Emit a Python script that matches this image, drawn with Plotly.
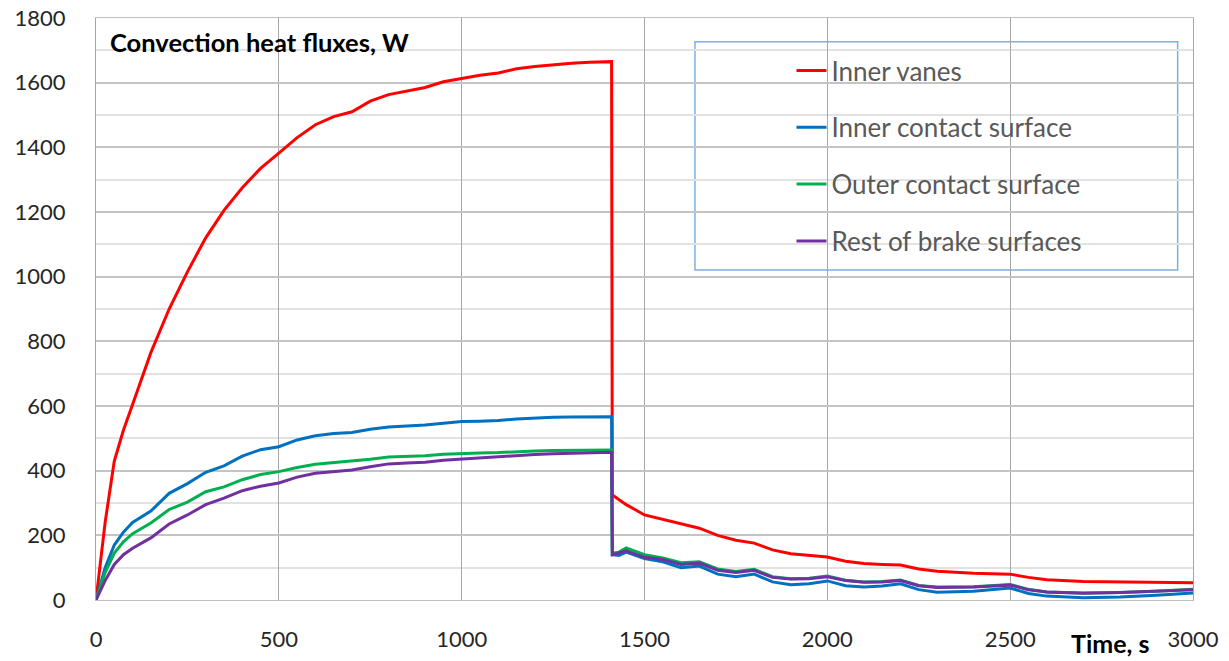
import plotly.graph_objects as go

# Heating phase (before the drop at ~1410 s)
t_heat = [0, 25, 50, 75, 100, 150, 200, 250, 300, 350, 400, 450, 500, 550, 600, 650, 700,
          750, 800, 850, 900, 950, 1000, 1050, 1100, 1150, 1200, 1250, 1300, 1350, 1410]
vanes_heat = [0, 240, 430, 525, 605, 765, 900, 1015, 1120, 1205, 1275, 1335, 1382, 1430, 1470, 1495,
              1510, 1543, 1563, 1575, 1585, 1603, 1614, 1623, 1630, 1643, 1650, 1656, 1660, 1663, 1665]
inner_heat = [0, 100, 170, 210, 240, 275, 330, 360, 395, 415, 445, 465, 474, 495, 508, 515,
              518, 528, 535, 538, 541, 547, 552, 553, 555, 560, 563, 565, 566, 567, 567]
outer_heat = [0, 85, 145, 180, 205, 238, 280, 303, 335, 350, 372, 388, 397, 410, 420, 425,
              428, 435, 442, 444, 446, 451, 454, 455, 456, 459, 461, 462, 463, 464, 464]
rest_heat = [0, 60, 110, 140, 160, 192, 235, 263, 295, 315, 338, 352, 362, 380, 392, 398,
             402, 412, 421, 424, 426, 432, 436, 439, 442, 446, 450, 452, 454, 456, 457]

# Cooling phase
t_cool = [1412, 1430, 1450, 1500, 1550, 1600, 1650, 1700, 1750, 1800, 1850, 1900, 1950, 2000,
          2050, 2100, 2150, 2200, 2250, 2300, 2400, 2500, 2550, 2600, 2700, 2800, 2900, 3000]
vanes_cool = [325, 310, 295, 263, 250, 235, 222, 200, 185, 176, 155, 143, 137, 133,
              120, 113, 110, 108, 96, 89, 83, 80, 70, 63, 57, 55, 54, 53]
inner_cool = [140, 138, 148, 128, 118, 100, 105, 80, 72, 80, 56, 47, 50, 59,
              44, 40, 43, 50, 32, 24, 27, 37, 20, 12, 7, 9, 15, 22]
outer_cool = [145, 148, 161, 140, 130, 115, 118, 96, 88, 95, 72, 66, 67, 74,
              61, 56, 57, 62, 45, 40, 41, 48, 33, 25, 22, 23, 27, 33]
rest_cool = [140, 145, 152, 132, 125, 110, 114, 92, 85, 92, 70, 65, 66, 72,
             60, 55, 56, 60, 44, 39, 40, 46, 32, 25, 21, 23, 27, 32]

names = ["Inner vanes", "Inner contact surface", "Outer contact surface", "Rest of brake surfaces"]
colors = ["#ff0000", "#0070c0", "#00b050", "#7030a0"]
series = [(vanes_heat, vanes_cool), (inner_heat, inner_cool),
          (outer_heat, outer_cool), (rest_heat, rest_cool)]

fig = go.Figure()
t_all = t_heat + t_cool
for name, color, (h, c) in zip(names, colors, series):
    fig.add_trace(go.Scatter(x=t_all, y=h + c, mode="lines", name=name,
                             legendgroup=name,
                             line=dict(color=color, width=3)))

font_family = "Lato, 'Open Sans', sans-serif"

fig.update_layout(
    width=1229, height=661,
    margin=dict(l=96, r=36, t=18, b=61, autoexpand=False),
    paper_bgcolor="white", plot_bgcolor="white",
    font=dict(family=font_family, size=22, color="#262626"),
    legend=dict(x=0.634, y=0.95, xanchor="left", yanchor="top",
                bgcolor="rgba(0,0,0,0)", borderwidth=0,
                font=dict(size=26, color="#595959", family=font_family),
                tracegroupgap=20, itemwidth=30),
    xaxis=dict(range=[0, 3000], dtick=500, showgrid=True, gridcolor="#a6a6a6", gridwidth=1,
               zeroline=False, showline=True, linecolor="#bfbfbf", mirror=True,
               ticks="", tickfont=dict(size=22), automargin=False,
               ticklabelstandoff=20, ticklabeloverflow="allow"),
    yaxis=dict(range=[0, 1800], dtick=200, showgrid=True, gridcolor="#c4c4c4", gridwidth=1.5,
               minor=dict(dtick=100, showgrid=True, gridcolor="#e2e2e2", gridwidth=1.5),
               zeroline=False, showline=True, linecolor="#a6a6a6", mirror=True,
               ticks="", tickfont=dict(size=22), automargin=False,
               ticklabelstandoff=25, ticklabeloverflow="allow"),
    shapes=[dict(type="rect", xref="paper", yref="paper",
                 x0=0.546, x1=0.986, y0=0.567, y1=0.959,
                 line=dict(color="#7fafdc", width=1.5), fillcolor="white", layer="below")],
    annotations=[
        dict(text="<b>Convection heat fluxes, W</b>", xref="paper", yref="paper",
             x=0.011, y=0.959, xanchor="left", yanchor="middle", showarrow=False,
             font=dict(size=25.5, color="black", family=font_family)),
        dict(text="<b>Time, s</b>", xref="paper", yref="paper",
             x=0.887, y=-0.103, xanchor="left", yanchor="bottom", showarrow=False,
             font=dict(size=25, color="black", family=font_family)),
    ],
)

fig.write_html("out.html", config={"displayModeBar": False},
               post_script="document.body.style.margin='0';")
